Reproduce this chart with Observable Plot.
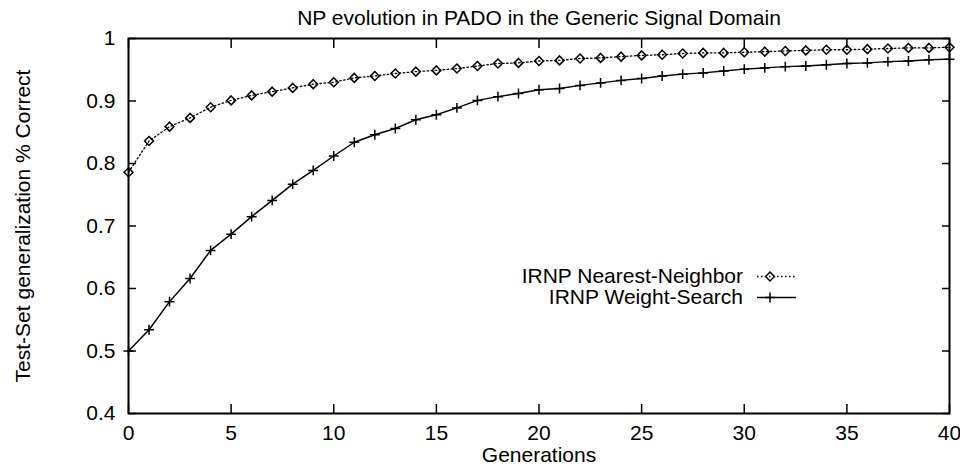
<!DOCTYPE html>
<html><head><meta charset="utf-8">
<script src="https://cdn.jsdelivr.net/npm/d3@7"></script>
<script src="https://cdn.jsdelivr.net/npm/@observablehq/plot@0.6"></script>
<style>body{margin:0;background:#fff}</style>
</head><body><div id="chart"></div>
<script>
const titleText = "NP evolution in PADO in the Generic Signal Domain";
const xLabel = "Generations";
const yLabel = "Test-Set generalization % Correct";
const seriesNames = ["IRNP Nearest-Neighbor", "IRNP Weight-Search"];
const generations = [0,1,2,3,4,5,6,7,8,9,10,11,12,13,14,15,16,17,18,19,20,21,22,23,24,25,26,27,28,29,30,31,32,33,34,35,36,37,38,39,40];
const nearestNeighbor = [0.786,0.836,0.859,0.873,0.890,0.901,0.909,0.915,0.921,0.927,0.930,0.937,0.940,0.944,0.947,0.949,0.952,0.956,0.960,0.961,0.964,0.965,0.968,0.969,0.971,0.973,0.974,0.976,0.977,0.977,0.978,0.979,0.980,0.981,0.982,0.982,0.983,0.984,0.985,0.985,0.986];
const weightSearch = [0.500,0.534,0.579,0.616,0.661,0.687,0.715,0.741,0.767,0.789,0.812,0.834,0.846,0.856,0.870,0.878,0.889,0.901,0.907,0.912,0.918,0.920,0.925,0.929,0.933,0.936,0.940,0.943,0.945,0.948,0.951,0.953,0.955,0.956,0.958,0.960,0.961,0.963,0.964,0.966,0.967];
const xTicks = [0,5,10,15,20,25,30,35,40];
const xTickLabels = ["0","5","10","15","20","25","30","35","40"];
const yTicks = [0.4,0.5,0.6,0.7,0.8,0.9,1.0];
const yTickLabels = ["0.4","0.5","0.6","0.7","0.8","0.9","1"];

const nnData = generations.map((g, i) => ({g, v: nearestNeighbor[i]}));
const wsData = generations.map((g, i) => ({g, v: weightSearch[i]}));
const xLab = new Map(xTicks.map((t, i) => [t, xTickLabels[i]]));
const yLab = new Map(yTicks.map((t, i) => [t, yTickLabels[i]]));

const FS = 21;

function legendMark() {
  return (index, scales, values, dim) => {
    const right = dim.width - dim.marginRight;
    const top = dim.marginTop;
    const g = d3.create("svg:g").attr("font-size", FS);
    const rows = [
      {name: seriesNames[0], y: top + 238, dash: "1.5,2.5", sym: d3.symbol(d3.symbolDiamond2, 50)(), sw: 1.3},
      {name: seriesNames[1], y: top + 259, dash: null, sym: d3.symbol(d3.symbolPlus, 35)(), sw: 1.5}
    ];
    rows.forEach(r => {
      g.append("text").attr("x", right - 206).attr("y", r.y).attr("dy", "0.35em")
        .attr("text-anchor", "end").attr("fill", "black").text(r.name);
      const l = g.append("line").attr("x1", right - 192).attr("x2", right - 153)
        .attr("y1", r.y + 0.5).attr("y2", r.y + 0.5).attr("stroke", "black").attr("stroke-width", r.sw);
      if (r.dash) l.attr("stroke-dasharray", r.dash);
      g.append("path").attr("d", r.sym).attr("transform", `translate(${right - 179},${r.y + 0.5})`)
        .attr("fill", "none").attr("stroke", "black").attr("stroke-width", 1.5);
    });
    return g.node();
  };
}

const chart = Plot.plot({
  width: 960,
  height: 467,
  marginLeft: 128,
  marginRight: 11,
  marginTop: 38,
  marginBottom: 54,
  style: {fontFamily: "'Liberation Sans', Arial, Helvetica, sans-serif", fontSize: FS + "px", background: "white", color: "black"},
  x: {domain: [0, 40]},
  y: {domain: [0.4, 1]},
  marks: [
    Plot.axisX({ticks: xTicks, tickFormat: d => xLab.get(d), tickSize: 0, tickPadding: 12, label: null, fontSize: FS}),
    Plot.axisY({ticks: yTicks, tickFormat: d => yLab.get(d), tickSize: 0, tickPadding: 13, label: null, fontSize: FS}),
    Plot.axisX({anchor: "bottom", ticks: xTicks, tickSize: 9, dy: -9, tickFormat: () => "", label: null, strokeWidth: 1.5}),
    Plot.axisX({anchor: "top", ticks: xTicks, tickSize: 9, dy: 9, tickFormat: () => "", label: null, strokeWidth: 1.5}),
    Plot.axisY({anchor: "left", ticks: yTicks, tickSize: 8, dx: 8, tickFormat: () => "", label: null, strokeWidth: 1.5}),
    Plot.axisY({anchor: "right", ticks: yTicks, tickSize: 8, dx: -8, tickFormat: () => "", label: null, strokeWidth: 1.5}),
    Plot.frame({stroke: "black", strokeWidth: 2}),
    Plot.line(nnData, {x: "g", y: "v", stroke: "black", strokeWidth: 1.3, strokeDasharray: "1.5,2.5"}),
    Plot.dot(nnData, {x: "g", y: "v", symbol: "diamond2", r: 4, stroke: "black", fill: "none", strokeWidth: 1.5}),
    Plot.line(wsData, {x: "g", y: "v", stroke: "black", strokeWidth: 1.5}),
    Plot.dot(wsData, {x: "g", y: "v", symbol: "plus", r: 3.3, stroke: "black", strokeWidth: 1.5}),
    Plot.text([titleText], {frameAnchor: "top", dy: -20.5, lineAnchor: "middle", fontSize: FS, fill: "black"}),
    Plot.text([xLabel], {frameAnchor: "bottom", dy: 42, lineAnchor: "middle", fontSize: FS, fill: "black"}),
    Plot.text([yLabel], {frameAnchor: "left", dx: -105, rotate: -90, textAnchor: "middle", lineAnchor: "middle", fontSize: FS, fill: "black"}),
    legendMark()
  ]
});
document.getElementById("chart").append(chart);
</script>
</body></html>
